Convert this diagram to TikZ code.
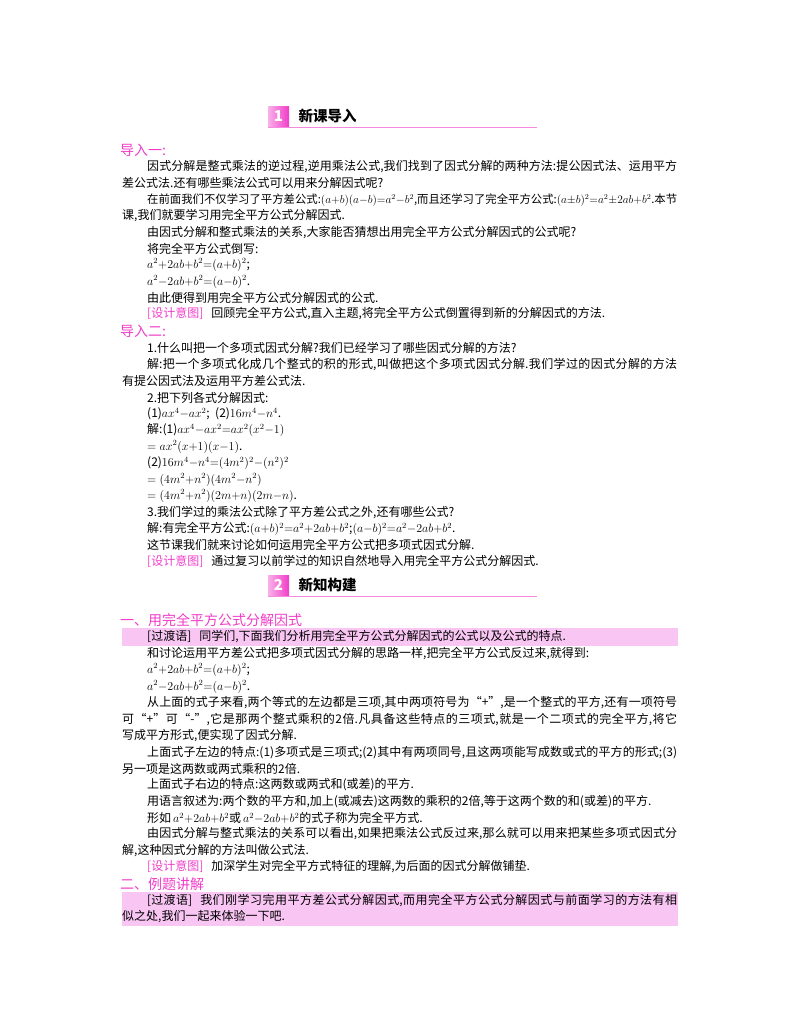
\documentclass[tikz,border=0pt]{standalone}
\usepackage{fontspec}
\usepackage{graphicx}
\setmainfont{Noto Sans CJK SC}
\XeTeXlinebreaklocale "zh"
\XeTeXlinebreakskip=0pt plus 3pt
\definecolor{pk}{HTML}{F03CC8}
\definecolor{band}{HTML}{F9C6F4}
\newcommand\jb[2]{\parbox{#1}{\parfillskip=0pt\noindent #2}}
\newcommand\ind[3]{\node[txt] (#1) at (147,-#2) {#3};}
\newcommand\indj[3]{\node[txt] (#1) at (147,-#2) {\jb{530pt}{#3}};}
\newcommand\cnt[3]{\node[txt] (#1) at (122,-#2) {#3};}
\newcommand\cntj[3]{\node[txt] (#1) at (122,-#2) {\jb{555pt}{#3}};}
\newcommand\pkh[3]{\node[txt,text=pk,font=\fontsize{14}{15}\selectfont] (#1) at (120,-#2) {#3};}
\newcommand\yi{{\color{pk}[设计意图]}\hspace{8pt}}
\newcommand\hdr[4]{%
 \shade[left color=pk!40,right color=pk] (268,-#2+10) rectangle (289,-#2-10);
 \node[font=\bfseries\itshape\fontsize{15}{15}\selectfont,text=white] (#1n) at (278.5,-#2) {#3};
 \node[anchor=west,font=\bfseries\fontsize{14.5}{15}\selectfont] (#1) at (295,-#2) {#4};
 \draw[pk!60,line width=0.8pt] (268,-#2-11) -- (537,-#2-11);}
\begin{document}
\begin{tikzpicture}[x=1pt,y=1pt,txt/.style={anchor=west,inner sep=0pt,font=\fontsize{12}{13}\selectfont}]
\useasboundingbox (0,0) rectangle (800,-1028);
\hdr{h1}{116}{1}{新课导入}
\pkh{d1}{150}{导入一:}
\indj{a1}{167}{因式分解是整式乘法的逆过程,逆用乘法公式,我们找到了因式分解的两种方法:提公因式法、运用平方}
\cnt{a2}{183}{差公式法.还有哪些乘法公式可以用来分解因式呢?}
\ind{a3}{200}{\resizebox{530pt}{!}{在前面我们不仅学习了平方差公式:$(a{+}b)(a{-}b){=}a^2{-}b^2$,而且还学习了完全平方公式:$(a{\pm}b)^2{=}a^2{\pm}2ab{+}b^2$.本节}}
\cnt{a4}{216}{课,我们就要学习用完全平方公式分解因式.}
\ind{a5}{233}{由因式分解和整式乘法的关系,大家能否猜想出用完全平方公式分解因式的公式呢?}
\ind{a6}{249}{将完全平方公式倒写:}
\ind{a7}{265}{$a^2{+}2ab{+}b^2{=}(a{+}b)^2$;}
\ind{a8}{282}{$a^2{-}2ab{+}b^2{=}(a{-}b)^2$.}
\ind{a9}{298}{由此便得到用完全平方公式分解因式的公式.}
\ind{a10}{314}{\yi 回顾完全平方公式,直入主题,将完全平方公式倒置得到新的分解因式的方法.}
\pkh{d2}{331}{导入二:}
\ind{b1}{348}{1.什么叫把一个多项式因式分解?我们已经学习了哪些因式分解的方法?}
\indj{b2}{365}{解:把一个多项式化成几个整式的积的形式,叫做把这个多项式因式分解.我们学过的因式分解的方法}
\cnt{b3}{381}{有提公因式法及运用平方差公式法.}
\ind{b4}{398}{2.把下列各式分解因式:}
\ind{b5}{414}{(1)$ax^4{-}ax^2$;\ \ (2)$16m^4{-}n^4$.}
\ind{b6}{430}{解:(1)$ax^4{-}ax^2{=}ax^2(x^2{-}1)$}
\ind{b7}{447}{$=ax^2(x{+}1)(x{-}1)$.}
\ind{b8}{463}{(2)$16m^4{-}n^4{=}(4m^2)^2{-}(n^2)^2$}
\ind{b9}{480}{$=(4m^2{+}n^2)(4m^2{-}n^2)$}
\ind{b10}{496}{$=(4m^2{+}n^2)(2m{+}n)(2m{-}n)$.}
\ind{b11}{513}{3.我们学过的乘法公式除了平方差公式之外,还有哪些公式?}
\ind{b12}{529}{解:有完全平方公式:$(a{+}b)^2{=}a^2{+}2ab{+}b^2$;$(a{-}b)^2{=}a^2{-}2ab{+}b^2$.}
\ind{b13}{545}{这节课我们就来讨论如何运用完全平方公式把多项式因式分解.}
\ind{b14}{561}{\yi 通过复习以前学过的知识自然地导入用完全平方公式分解因式.}
\hdr{h2}{585}{2}{新知构建}
\pkh{s1}{620}{一、用完全平方公式分解因式}
\fill[band] (122,-628) rectangle (678,-646);
\ind{c1}{637}{[过渡语]\hspace{8pt}同学们,下面我们分析用完全平方公式分解因式的公式以及公式的特点.}
\ind{c2}{654}{和讨论运用平方差公式把多项式因式分解的思路一样,把完全平方公式反过来,就得到:}
\ind{c3}{670}{$a^2{+}2ab{+}b^2{=}(a{+}b)^2$;}
\ind{c4}{687}{$a^2{-}2ab{+}b^2{=}(a{-}b)^2$.}
\indj{c5}{703}{从上面的式子来看,两个等式的左边都是三项,其中两项符号为“+”,是一个整式的平方,还有一项符号}
\cntj{c6}{720}{可“+”可“-”,它是那两个整式乘积的2倍.凡具备这些特点的三项式,就是一个二项式的完全平方,将它}
\cnt{c7}{736}{写成平方形式,便实现了因式分解.}
\indj{c8}{753}{上面式子左边的特点:(1)多项式是三项式;(2)其中有两项同号,且这两项能写成数或式的平方的形式;(3)}
\cnt{c9}{769}{另一项是这两数或两式乘积的2倍.}
\ind{c10}{785}{上面式子右边的特点:这两数或两式和(或差)的平方.}
\ind{c11}{802}{用语言叙述为:两个数的平方和,加上(或减去)这两数的乘积的2倍,等于这两个数的和(或差)的平方.}
\ind{c12}{818}{形如$\,a^2{+}2ab{+}b^2$或$\,a^2{-}2ab{+}b^2$的式子称为完全平方式.}
\indj{c13}{834}{由因式分解与整式乘法的关系可以看出,如果把乘法公式反过来,那么就可以用来把某些多项式因式分}
\cnt{c14}{851}{解,这种因式分解的方法叫做公式法.}
\ind{c15}{867}{\yi 加深学生对完全平方式特征的理解,为后面的因式分解做铺垫.}
\pkh{s2}{884}{二、例题讲解}
\fill[band] (122,-892) rectangle (678,-926);
\indj{e1}{901}{[过渡语]\hspace{8pt}我们刚学习完用平方差公式分解因式,而用完全平方公式分解因式与前面学习的方法有相}
\cnt{e2}{917}{似之处,我们一起来体验一下吧.}
\end{tikzpicture}
\end{document}
